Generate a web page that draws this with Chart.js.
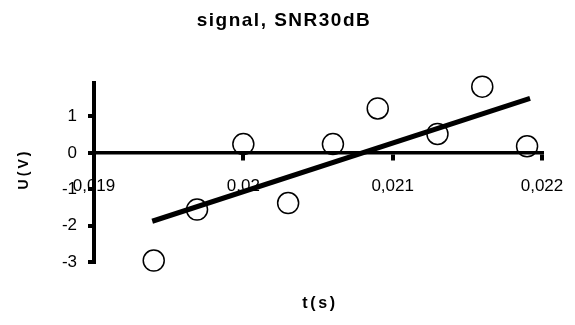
<!DOCTYPE html>
<html lang="en">
    <head>
        <meta charset="UTF-8" />
        <title>signal, SNR30dB</title>
        <script src="https://cdn.jsdelivr.net/npm/chart.js"></script>
        <style>
            body { margin: 0; background: #fff; }
        </style>
    </head>
    <body>
        <canvas id="chart" width="575" height="325"></canvas>
        <script>
            // measured samples
            const tData = [0.0194, 0.01969, 0.02, 0.0203, 0.0206, 0.0209, 0.0213, 0.0216, 0.0219];
            const uData = [-2.96, -1.56, 0.24, -1.38, 0.24, 1.22, 0.52, 1.82, 0.18];
            // fitted line ends
            const fitT = [0.01939, 0.02192];
            const fitU = [-1.88, 1.5];

            const xTicks = [0.019, 0.02, 0.021, 0.022];
            const xTickLabels = ["0,019", "0,02", "0,021", "0,022"];
            const yTicks = [-3, -2, -1, 0, 1];

            const chartTitle = "signal, SNR30dB";
            const xTitle = "t(s)";
            const yTitle = "U(V)";

            const fontFamily = '"Liberation Sans", Arial, sans-serif';

            const textPlugin = {
                id: "texts",
                afterDraw(chart) {
                    const ctx = chart.ctx;
                    ctx.save();
                    ctx.fillStyle = "#000";
                    ctx.textAlign = "center";
                    ctx.textBaseline = "alphabetic";
                    ctx.font = "bold 19px " + fontFamily;
                    ctx.letterSpacing = "1.5px";
                    ctx.fillText(chartTitle, 284, 26);
                    ctx.font = "bold 16px " + fontFamily;
                    ctx.letterSpacing = "2.7px";
                    ctx.fillText(xTitle, 320, 308);
                    ctx.font = "bold 14px " + fontFamily;
                    ctx.letterSpacing = "3px";
                    ctx.translate(28, 169);
                    ctx.rotate(-Math.PI / 2);
                    ctx.fillText(yTitle, 0, 0);
                    ctx.restore();
                },
            };

            const points = tData.map((t, i) => ({ x: t, y: uData[i] }));
            const fit = fitT.map((t, i) => ({ x: t, y: fitU[i] }));

            new Chart(document.getElementById("chart"), {
                type: "scatter",
                data: {
                    datasets: [
                        {
                            data: fit,
                            showLine: true,
                            borderColor: "#000",
                            borderWidth: 5,
                            pointRadius: 0,
                            clip: false,
                        },
                        {
                            data: points,
                            pointRadius: 10.5,
                            pointBorderWidth: 1.5,
                            borderColor: "#000",
                            backgroundColor: "rgba(0,0,0,0)",
                            clip: false,
                        },
                    ],
                },
                options: {
                    responsive: false,
                    animation: false,
                    layout: { padding: { left: 54, right: 33, top: 83, bottom: 63 } },
                    plugins: {
                        legend: { display: false },
                        tooltip: { enabled: false },
                    },
                    scales: {
                        x: {
                            type: "linear",
                            min: 0.019,
                            max: 0.022,
                            position: { y: 0 },
                            afterBuildTicks: (scale) => {
                                scale.ticks = xTicks.map((v) => ({ value: v }));
                            },
                            afterFit: (scale) => {
                                // labels may hang over the edges, like the original
                                scale.paddingLeft = 0;
                                scale.paddingRight = 0;
                            },
                            grid: {
                                drawOnChartArea: false,
                                drawTicks: true,
                                tickLength: 6,
                                lineWidth: 4,
                                color: "#000",
                            },
                            border: { display: true, width: 3.5, color: "#000" },
                            ticks: {
                                color: "#000",
                                padding: 17,
                                maxRotation: 0,
                                autoSkip: false,
                                font: { family: fontFamily, size: 17 },
                                callback: (v, i) => xTickLabels[i],
                            },
                        },
                        y: {
                            type: "linear",
                            min: -3,
                            max: 1.92,
                            position: "left",
                            afterBuildTicks: (scale) => {
                                scale.ticks = yTicks.map((v) => ({ value: v }));
                            },
                            afterFit: (scale) => {
                                scale.width = 40;
                            },
                            grid: {
                                drawOnChartArea: false,
                                drawTicks: true,
                                tickLength: 6,
                                lineWidth: 4,
                                color: "#000",
                            },
                            border: { display: true, width: 4, color: "#000" },
                            ticks: {
                                color: "#000",
                                padding: 11,
                                autoSkip: false,
                                font: { family: fontFamily, size: 17 },
                            },
                        },
                    },
                },
                plugins: [textPlugin],
            });
        </script>
    </body>
</html>
